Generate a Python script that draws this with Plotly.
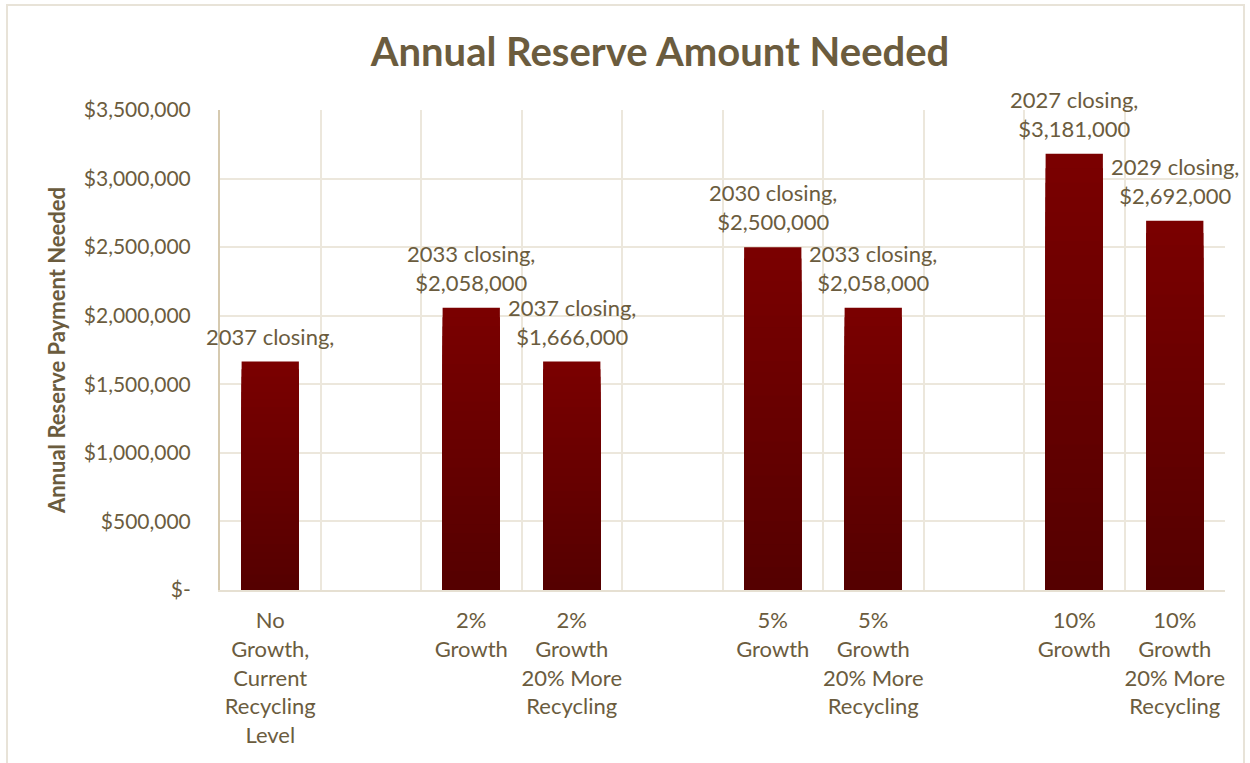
import plotly.graph_objects as go

# ---- data ----
categories = ["No<br>Growth,<br>Current<br>Recycling<br>Level", "",
              "2%<br>Growth", "2%<br>Growth<br>20% More<br>Recycling", "",
              "5%<br>Growth", "5%<br>Growth<br>20% More<br>Recycling", "",
              "10%<br>Growth", "10%<br>Growth<br>20% More<br>Recycling"]
values = [1666000, None, 2058000, 1666000, None, 2500000, 2058000, None, 3181000, 2692000]
closing_years = ["2037", None, "2033", "2037", None, "2030", "2033", None, "2027", "2029"]
show_value = [False, False, True, True, False, True, True, False, True, True]
ytick_vals = [0, 500000, 1000000, 1500000, 2000000, 2500000, 3000000, 3500000]
ytick_text = ["$-", "$500,000", "$1,000,000", "$1,500,000", "$2,000,000",
              "$2,500,000", "$3,000,000", "$3,500,000"]

# unique keys for category slots (blank slots need distinct names)
slot_keys = [f"slot{i}" for i in range(len(categories))]

labels = []
for yr, v, sv in zip(closing_years, values, show_value):
    if yr is None:
        labels.append("")
    elif sv:
        labels.append(f"{yr} closing,<br>${v:,.0f}")
    else:
        labels.append(f"{yr} closing,")

TXT = "#6B5C3E"
FONT = "Lato"

fig = go.Figure()

# gradient bars: stacked overlays from bright top to dark bottom
top_rgb = (0x7A, 0x00, 0x00)
bot_rgb = (0x55, 0x00, 0x00)
steps = 30
for k in range(steps):
    frac = 1 - k / steps
    t = k / (steps - 1)
    c = tuple(round(top_rgb[i] + (bot_rgb[i] - top_rgb[i]) * t) for i in range(3))
    ys = [None if v is None else v * frac for v in values]
    fig.add_trace(go.Bar(
        x=slot_keys, y=ys, width=0.57,
        marker=dict(color=f"rgb{c}", line=dict(width=0)),
        showlegend=False, hoverinfo="skip",
    ))

annotations = []
for key, v, lab in zip(slot_keys, values, labels):
    if v is None:
        continue
    annotations.append(dict(x=key, y=v, xref="x", yref="y", text=lab,
                            showarrow=False, yanchor="bottom", xanchor="center",
                            yshift=10, align="center",
                            font=dict(family=FONT, size=22, color=TXT)))

W, H = 1250, 763
L, R, T, B = 220, 25, 110, 173
pw, ph = W - L - R, H - T - B

fig.update_layout(
    width=W, height=H,
    barmode="overlay",
    margin=dict(l=L, r=R, t=T, b=B),
    paper_bgcolor="white", plot_bgcolor="white",
    title=dict(text="<b>Annual Reserve Amount Needed</b>", x=660 / W, xanchor="center",
               y=1 - 52 / H, yanchor="middle",
               font=dict(family=FONT, size=40, color=TXT)),
    font=dict(family=FONT, size=20, color=TXT),
    annotations=annotations,
    xaxis=dict(type="category", categoryorder="array", categoryarray=slot_keys,
               tickvals=slot_keys, ticktext=categories, tickson="boundaries",
               tickangle=0,
               showgrid=True, gridcolor="#ECE7DC", gridwidth=2,
               showline=True, linecolor="#E6E0D2", linewidth=2,
               ticks="", ticklabelstandoff=10,
               tickfont=dict(family=FONT, size=22, color=TXT),
               range=[-0.5, 9.5]),
    yaxis=dict(range=[0, 3500000], tickvals=ytick_vals, ticktext=ytick_text,
               showgrid=True, gridcolor="#ECE7DC", gridwidth=2,
               showline=True, linecolor="#D6CAB0", linewidth=2,
               zeroline=False, ticks="", ticklabelstandoff=23,
               tickfont=dict(family=FONT, size=21, color=TXT),
               title=dict(text="<b>Annual Reserve Payment Needed</b>", standoff=12,
                          font=dict(family=FONT, size=22, color=TXT))),
    shapes=[dict(type="rect", xref="paper", yref="paper",
                 x0=(7 - L) / pw, x1=(1244 - L) / pw,
                 y0=(H - 770 - B) / ph, y1=(H - 5 - B) / ph,
                 line=dict(color="#E8E3D8", width=2), fillcolor="rgba(0,0,0,0)",
                 layer="below")],
)

fig.write_html("out.html")
